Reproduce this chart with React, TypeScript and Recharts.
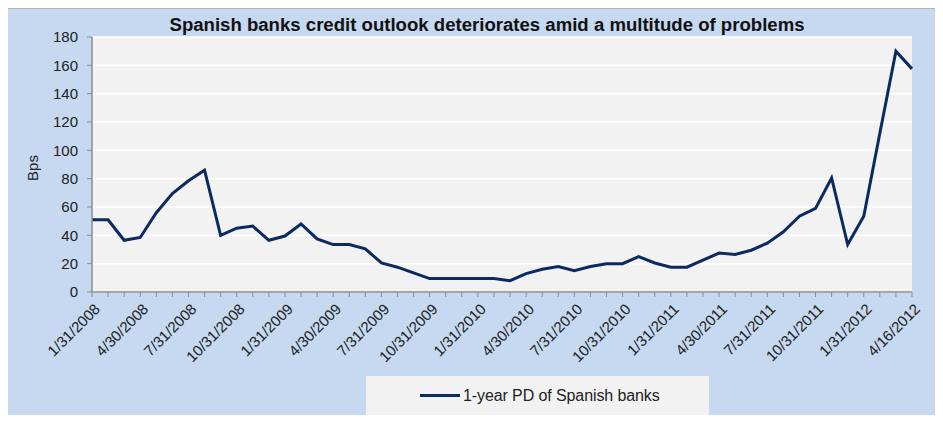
import React from 'react'
import { LineChart, Line, XAxis, YAxis, CartesianGrid } from 'recharts'

// month-end observations, last one is mid-April 2012
const dates = [
  '1/31/2008', '2/29/2008', '3/31/2008', '4/30/2008', '5/31/2008', '6/30/2008',
  '7/31/2008', '8/31/2008', '9/30/2008', '10/31/2008', '11/30/2008', '12/31/2008',
  '1/31/2009', '2/28/2009', '3/31/2009', '4/30/2009', '5/31/2009', '6/30/2009',
  '7/31/2009', '8/31/2009', '9/30/2009', '10/31/2009', '11/30/2009', '12/31/2009',
  '1/31/2010', '2/28/2010', '3/31/2010', '4/30/2010', '5/31/2010', '6/30/2010',
  '7/31/2010', '8/31/2010', '9/30/2010', '10/31/2010', '11/30/2010', '12/31/2010',
  '1/31/2011', '2/28/2011', '3/31/2011', '4/30/2011', '5/31/2011', '6/30/2011',
  '7/31/2011', '8/31/2011', '9/30/2011', '10/31/2011', '11/30/2011', '12/31/2011',
  '1/31/2012', '2/29/2012', '3/31/2012', '4/16/2012',
]

// 1-year PD of Spanish banks, bps
const pdValues = [
  51, 51, 36.5, 38.5, 56, 69.5,
  78.5, 86, 40, 45, 46.5, 36.5,
  39.5, 48, 37.5, 33.5, 33.5, 30.5,
  20.5, 17.5, 13.5, 9.5, 9.5, 9.5,
  9.5, 9.5, 8, 13, 16, 18,
  15, 18, 20, 20, 25, 20.5,
  17.5, 17.5, 22.5, 27.5, 26.5, 29.5,
  34.5, 42.5, 53.5, 59, 80.5, 33.5,
  53.5, 112, 170, 157.5,
]

const yTicks = [0, 20, 40, 60, 80, 100, 120, 140, 160, 180]

const TITLE = 'Spanish banks credit outlook deteriorates amid a multitude of problems'
const SERIES_NAME = '1-year PD of Spanish banks'

const LINE_COLOR = '#0c2a62'
const AXIS_COLOR = '#8c8c8c'
const TEXT_COLOR = '#222'
const FONT = 'Arial, "Liberation Sans", sans-serif'

const chartData = dates.map((d, i) => ({ date: d, pd: pdValues[i] }))

// only every third month gets a label, but every month gets a tick mark
const DateTick = (props: any) => {
  const { x, y, index, payload } = props
  if (index % 3 !== 0) return null
  const px = x + 9
  const py = y + 11
  return (
    <text
      x={px}
      y={py}
      transform={`rotate(-45 ${px} ${py})`}
      textAnchor="end"
      fontSize={15}
      fontFamily={FONT}
      fill={TEXT_COLOR}
    >
      {payload.value}
    </text>
  )
}

export default function App() {
  return (
    <div style={{ position: 'relative', width: 943, height: 423, margin: -8, background: '#fff', overflow: 'hidden' }}>
      <div
        style={{
          position: 'absolute',
          left: 5,
          top: 7,
          right: 0,
          bottom: 0,
          background: '#c6d9f0',
          borderLeft: '2px solid #a8a8a8',
          borderTop: '2px solid #b4b4b4',
        }}
      />
      <svg width={943} height={40} style={{ position: 'absolute', left: 0, top: 0 }}>
        <text
          x={487}
          y={31}
          textAnchor="middle"
          fontSize={18}
          fontWeight="bold"
          fontFamily='"Liberation Sans Narrow", "Liberation Sans", Arial, sans-serif'
          fill="#111"
          textLength={635}
          lengthAdjust="spacingAndGlyphs"
        >
          {TITLE}
        </text>
      </svg>
      <div style={{ position: 'absolute', left: 0, top: 0 }}>
        <LineChart width={943} height={423} data={chartData} margin={{ top: 37, right: 31, left: 32, bottom: 0 }}>
          <CartesianGrid horizontal vertical={false} fill="#f2f2f2" stroke="#ffffff" strokeWidth={1.5} />
          <XAxis
            dataKey="date"
            interval={0}
            height={131}
            tick={<DateTick />}
            tickSize={5}
            tickLine={{ stroke: AXIS_COLOR }}
            axisLine={{ stroke: AXIS_COLOR, strokeWidth: 1.5 }}
          />
          <YAxis
            width={60}
            domain={[0, 180]}
            ticks={yTicks}
            interval={0}
            tickSize={5}
            tickMargin={9}
            tickLine={{ stroke: AXIS_COLOR }}
            axisLine={{ stroke: AXIS_COLOR, strokeWidth: 1.5 }}
            tick={{ fontSize: 15, fontFamily: FONT, fill: TEXT_COLOR }}
          />
          <Line
            type="linear"
            dataKey="pd"
            name={SERIES_NAME}
            stroke={LINE_COLOR}
            strokeWidth={3}
            dot={false}
            isAnimationActive={false}
          />
        </LineChart>
      </div>
      <svg width={60} height={300} style={{ position: 'absolute', left: 0, top: 0 }}>
        <text
          x={38}
          y={168}
          transform="rotate(-90 38 168)"
          textAnchor="middle"
          fontSize={15}
          fontFamily={FONT}
          fill={TEXT_COLOR}
        >
          Bps
        </text>
      </svg>
      <div
        style={{
          position: 'absolute',
          left: 366,
          top: 376,
          width: 343,
          height: 41,
          background: '#f2f2f2',
          fontFamily: FONT,
          fontSize: 16,
          color: TEXT_COLOR,
        }}
      >
        <div style={{ position: 'absolute', left: 54, top: 18, width: 40, height: 3, background: LINE_COLOR }} />
        <div style={{ position: 'absolute', left: 97, top: 10, lineHeight: '20px', whiteSpace: 'nowrap', letterSpacing: -0.1 }}>
          {SERIES_NAME}
        </div>
      </div>
    </div>
  )
}
